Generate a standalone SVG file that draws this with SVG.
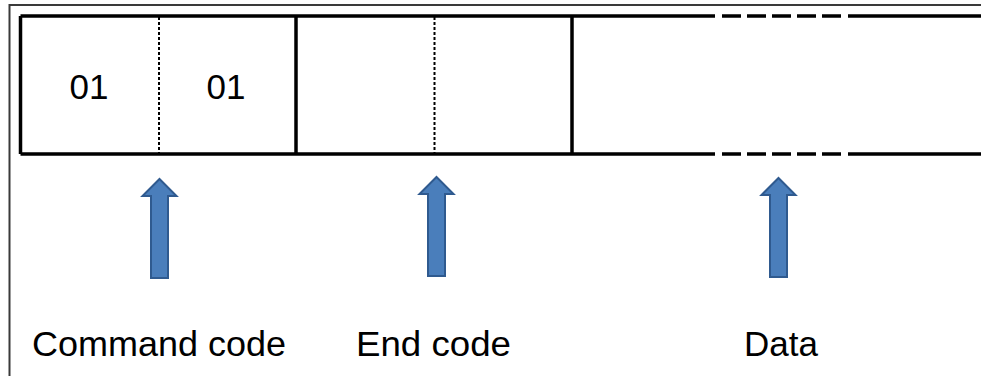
<svg xmlns="http://www.w3.org/2000/svg" width="981" height="376" viewBox="0 0 981 376">
  <style>
    .frame { stroke: #3a3a3a; stroke-width: 2; fill: none; }
    .thick { stroke: #000; stroke-width: 3.5; fill: none; }
    .dashed { stroke: #000; stroke-width: 3.5; fill: none; stroke-dasharray: 19 6; }
    .dotted { stroke: #000; stroke-width: 2; fill: none; stroke-dasharray: 3 2; }
    .txt { font-family: "Liberation Sans", Arial, sans-serif; font-size: 35px; fill: #000; }
    .arrow { fill: #4a7ebb; stroke: #2f5a8f; stroke-width: 2; stroke-linejoin: miter; }
  </style>
  <defs>
    <path id="upArrow" d="M0,0 L17,17 L8.5,17 L8.5,99 L-8.5,99 L-8.5,17 L-17,17 Z"/>
  </defs>
  <rect x="0" y="0" width="981" height="376" fill="#fff"/>
  <g id="frame">
    <path class="frame" d="M9.5,376 L9.5,5 L981,5"/>
  </g>
  <g id="packet">
    <path class="thick" d="M20.5,16 L715,16 M848,16 L981,16 M20.5,154 L715,154 M848,154 L981,154 M20.5,16 L20.5,154"/>
    <path class="dashed" d="M722,16 L842,16 M722,154 L842,154"/>
  </g>
  <g id="command-code">
    <line class="thick" x1="296" y1="16" x2="296" y2="154"/>
    <line class="dotted" x1="159" y1="17" x2="159" y2="153"/>
    <text class="txt" x="89" y="99" text-anchor="middle">01</text>
    <text class="txt" x="226" y="99" text-anchor="middle">01</text>
    <text class="txt" x="32" y="356" textLength="254" lengthAdjust="spacingAndGlyphs">Command code</text>
  </g>
  <g id="end-code">
    <line class="thick" x1="572" y1="16" x2="572" y2="154"/>
    <line class="dotted" x1="434.5" y1="17" x2="434.5" y2="153"/>
    <text class="txt" x="356" y="356" textLength="155" lengthAdjust="spacingAndGlyphs">End code</text>
  </g>
  <g id="data">
    <text class="txt" x="744" y="356">Data</text>
  </g>
  <g id="connectors">
    <use href="#upArrow" class="arrow" transform="translate(159.5,179)"/>
    <use href="#upArrow" class="arrow" transform="translate(436.5,177)"/>
    <use href="#upArrow" class="arrow" transform="translate(778.5,178)"/>
  </g>
</svg>
